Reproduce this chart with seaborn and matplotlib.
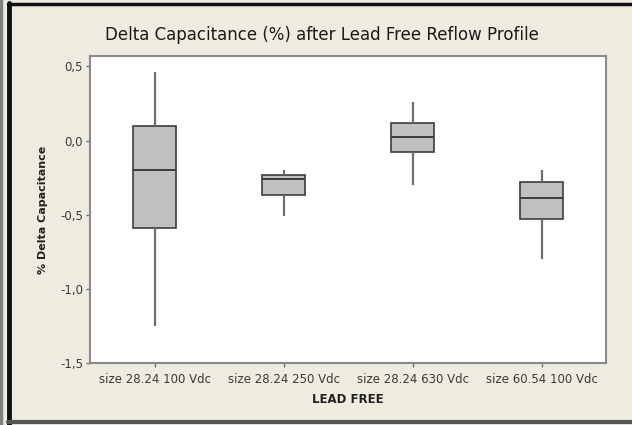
import matplotlib
matplotlib.use("Agg")
import matplotlib.pyplot as plt
import matplotlib.ticker as mticker
from matplotlib.lines import Line2D
import pandas as pd
import seaborn as sns

# Five-number summaries per capacitor group (% delta capacitance)
groups = ["size 28.24 100 Vdc", "size 28.24 250 Vdc",
          "size 28.24 630 Vdc", "size 60.54 100 Vdc"]
whisker_low = [-1.25, -0.51, -0.30, -0.80]
q1 = [-0.59, -0.37, -0.075, -0.53]
median = [-0.20, -0.26, 0.025, -0.39]
q3 = [0.10, -0.23, 0.115, -0.28]
whisker_high = [0.46, -0.20, 0.26, -0.20]

y_ticks = [-1.5, -1.0, -0.5, 0.0, 0.5]

rows = []
for i, g in enumerate(groups):
    for v in (whisker_low[i], q1[i], median[i], q3[i], whisker_high[i]):
        rows.append({"group": g, "value": v})
df = pd.DataFrame(rows)

sns.set_theme(style="white")
plt.rcParams["font.family"] = ["DejaVu Sans"]

bg = "#EEEBE1"
fig = plt.figure(figsize=(6.32, 4.25), dpi=100, facecolor=bg)
ax = fig.add_axes([0.1424, 0.1459, 0.8165, 0.7224])
ax.set_facecolor("white")

sns.boxplot(data=df, x="group", y="value", order=groups, ax=ax,
            whis=(0, 100), width=0.33, color="#C0C0C0", saturation=1,
            linewidth=1.2, showfliers=False,
            boxprops=dict(facecolor="#C0C0C0", edgecolor="#3C3C3C"),
            medianprops=dict(color="#3C3C3C", linewidth=1.4),
            whiskerprops=dict(color="#6E6E6E", linewidth=1.6),
            capprops=dict(linewidth=0))

ax.set_xlim(-0.5, 3.5)
ax.set_ylim(-1.5, 0.57)
ax.set_yticks(y_ticks)
ax.yaxis.set_major_formatter(mticker.FuncFormatter(
    lambda v, p: f"{v:.1f}".replace(".", ",")))

for s in ax.spines.values():
    s.set_color("#8A8A8A")
    s.set_linewidth(1.5)

ax.tick_params(axis="both", which="major", direction="out", length=3,
               width=1, color="#6E6E6E", labelsize=8.5, labelcolor="#3A3A3A",
               pad=2, bottom=True, left=True)
ax.tick_params(axis="x", pad=4)

ax.set_xlabel("LEAD FREE", fontsize=8.5, fontweight="bold",
              color="#222222", labelpad=5)
ax.set_ylabel("% Delta Capacitance", fontsize=8, fontweight="bold",
              color="#222222", labelpad=9)
fig.text(0.510, 0.918, "Delta Capacitance (%) after Lead Free Reflow Profile",
         ha="center", va="center", fontsize=12, color="#1A1A1A")

# Window frame edges
fig.add_artist(Line2D([0.002, 0.002], [0, 1], transform=fig.transFigure,
                      color="#808080", linewidth=2.5))
fig.add_artist(Line2D([0.015, 0.015], [0, 0.993], transform=fig.transFigure,
                      color="#111111", linewidth=3.5))
fig.add_artist(Line2D([0.012, 1], [0.991, 0.991], transform=fig.transFigure,
                      color="#111111", linewidth=2.5))
fig.add_artist(Line2D([0.012, 1], [0.006, 0.006], transform=fig.transFigure,
                      color="#555555", linewidth=3))

fig.savefig("out.png", dpi=100, facecolor=bg)
